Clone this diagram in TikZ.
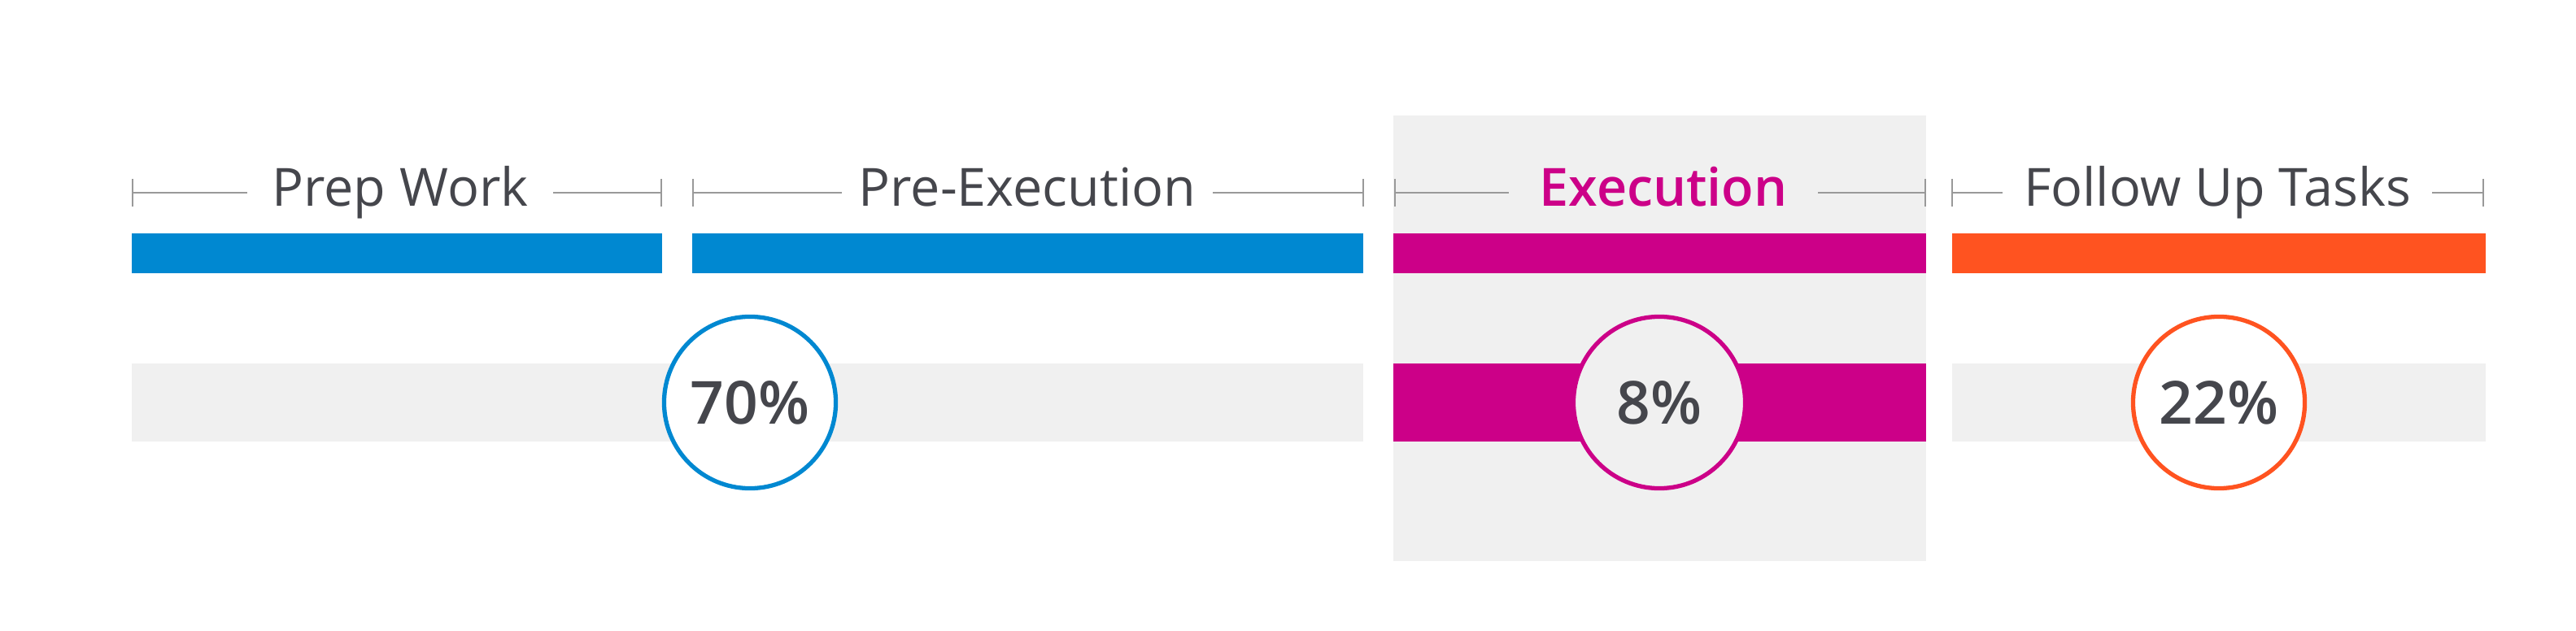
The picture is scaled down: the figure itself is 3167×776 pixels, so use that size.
\documentclass[tikz,border=0pt]{standalone}
\usepackage{fontspec}
\setmainfont{Open Sans}
\newfontfamily\semifont{Open Sans Semibold}
\definecolor{pblue}{RGB}{0,136,209}
\definecolor{pmag}{RGB}{204,0,136}
\definecolor{porange}{RGB}{255,83,32}
\definecolor{pgray}{RGB}{240,240,240}
\definecolor{pline}{RGB}{153,153,153}
\definecolor{ptext}{RGB}{69,70,76}
\tikzset{
  brk/.style={draw=pline, line width=0.6pt},
  title/.style={anchor=base, inner xsep=0.27cm, inner ysep=0pt, text=ptext,
    font=\fontsize{18.4}{22}\selectfont},
  pct/.style={circle, line width=1.5pt, minimum size=2.11cm, inner sep=0pt,
    text=ptext, font=\semifont\fontsize{20.8}{24}\selectfont},
}
\begin{document}
\begin{tikzpicture}[x=0.01cm,y=-0.01cm]
\useasboundingbox (0,0) rectangle (3167,776);
\fill[white] (0,0) rectangle (3167,776);
% execution panel
\fill[pgray] (1713,142) rectangle (2368,690);
% top bars
\fill[pblue] (162,287) rectangle (814,336);
\fill[pblue] (851,287) rectangle (1676,336);
\fill[pmag] (1713,287) rectangle (2368,336);
\fill[porange] (2400,287) rectangle (3056,336);
% bottom bars
\fill[pgray] (162,447) rectangle (1676,543);
\fill[pmag] (1713,447) rectangle (2368,543);
\fill[pgray] (2400,447) rectangle (3056,543);
% bracket coordinates
\coordinate (a1) at (163,237); \coordinate (a2) at (813,237);
\coordinate (b1) at (852,237); \coordinate (b2) at (1676,237);
\coordinate (c1) at (1715,237); \coordinate (c2) at (2367,237);
\coordinate (d1) at (2400,237); \coordinate (d2) at (3053,237);
\foreach \p in {a1,a2,b1,b2,c1,c2,d1,d2}{
  \draw[brk] ([yshift=0.17cm]\p) -- ([yshift=-0.17cm]\p);
}
% titles
\node[title, inner xsep=0.3cm] (t1) at (492,254) {Prep Work};
\node[title, inner xsep=0.2cm] (t2) at (1263,254) {Pre-Execution};
\node[title, inner xsep=0.37cm, text=pmag, font=\semifont\fontsize{18.4}{22}\selectfont] (t3) at (2045,254) {Execution};
\node[title, inner xsep=0.25cm] (t4) at (2726,254) {Follow Up Tasks};
\draw[brk] (a1) -- (a1 -| t1.west); \draw[brk] (a2) -- (a2 -| t1.east);
\draw[brk] (b1) -- (b1 -| t2.west); \draw[brk] (b2) -- (b2 -| t2.east);
\draw[brk] (c1) -- (c1 -| t3.west); \draw[brk] (c2) -- (c2 -| t3.east);
\draw[brk] (d1) -- (d1 -| t4.west); \draw[brk] (d2) -- (d2 -| t4.east);
% percent circles
\node[pct, draw=pblue, fill=white] (p1) at (922,495) {70\%};
\node[pct, draw=pmag, fill=pgray] (p2) at (2040,495) {8\%};
\node[pct, draw=porange, fill=white] (p3) at (2728,495) {22\%};
\end{tikzpicture}
\end{document}
